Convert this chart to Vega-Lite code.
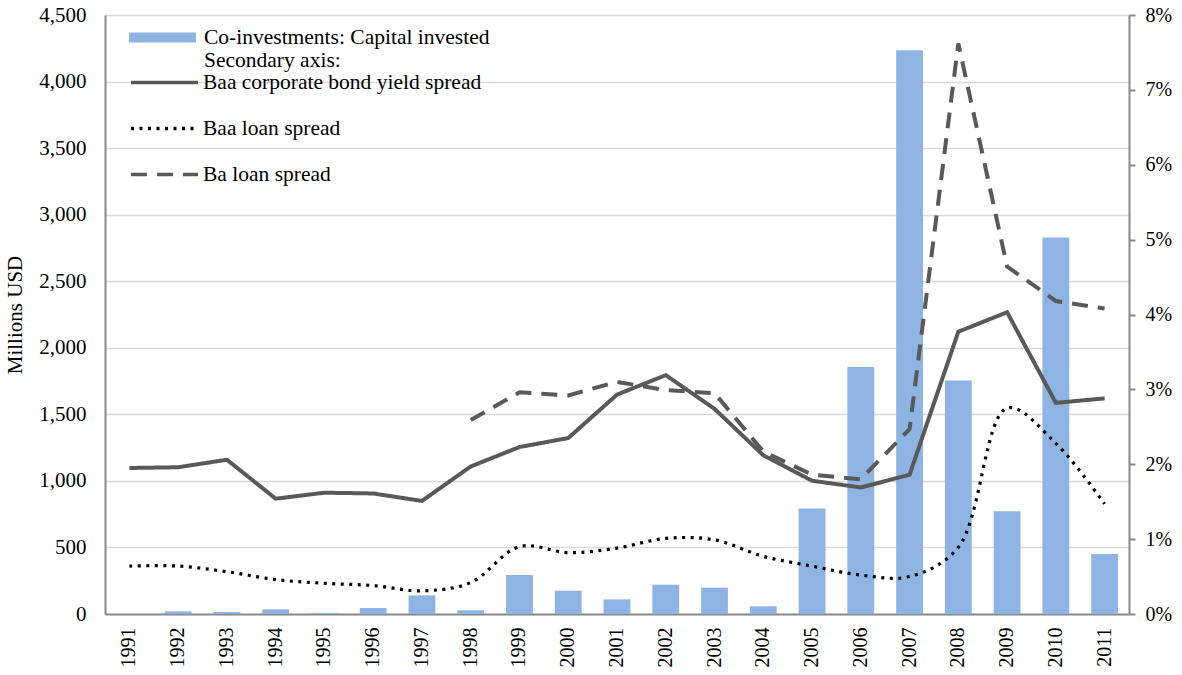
{
  "$schema": "https://vega.github.io/schema/vega-lite/v6.json",
  "autosize": {"type": "none"},
  "width": 1024,
  "height": 599,
  "padding": {"left": 105, "top": 15, "right": 53, "bottom": 61},
  "background": "white",
  "config": {
    "font": "Liberation Serif",
    "view": {"stroke": null},
    "axis": {
      "labelFont": "Liberation Serif",
      "titleFont": "Liberation Serif",
      "labelFontSize": 20,
      "titleFontSize": 21,
      "labelColor": "#000000",
      "titleColor": "#000000",
      "titleFontWeight": "normal",
      "domainColor": "#898989",
      "domainWidth": 2,
      "tickColor": "#898989",
      "tickWidth": 2,
      "gridColor": "#d9d9d9",
      "gridWidth": 1.5
    },
    "legend": {
      "labelFont": "Liberation Serif",
      "labelFontSize": 21.5,
      "labelColor": "#000000",
      "titleFont": "Liberation Serif"
    }
  },
  "datasets": {
    "capital": [
      {"year": "1991", "capital": 0},
      {"year": "1992", "capital": 20},
      {"year": "1993", "capital": 15},
      {"year": "1994", "capital": 35},
      {"year": "1995", "capital": 8},
      {"year": "1996", "capital": 45},
      {"year": "1997", "capital": 140},
      {"year": "1998", "capital": 28},
      {"year": "1999", "capital": 293},
      {"year": "2000", "capital": 175},
      {"year": "2001", "capital": 110},
      {"year": "2002", "capital": 220},
      {"year": "2003", "capital": 198},
      {"year": "2004", "capital": 58},
      {"year": "2005", "capital": 793},
      {"year": "2006", "capital": 1856},
      {"year": "2007", "capital": 4235},
      {"year": "2008", "capital": 1755},
      {"year": "2009", "capital": 772},
      {"year": "2010", "capital": 2828},
      {"year": "2011", "capital": 450}
    ],
    "spreads": [
      {"year": "1991", "series": "Baa corporate bond yield spread", "value": 1.95},
      {"year": "1992", "series": "Baa corporate bond yield spread", "value": 1.96},
      {"year": "1993", "series": "Baa corporate bond yield spread", "value": 2.06},
      {"year": "1994", "series": "Baa corporate bond yield spread", "value": 1.54},
      {"year": "1995", "series": "Baa corporate bond yield spread", "value": 1.62},
      {"year": "1996", "series": "Baa corporate bond yield spread", "value": 1.61},
      {"year": "1997", "series": "Baa corporate bond yield spread", "value": 1.51},
      {"year": "1998", "series": "Baa corporate bond yield spread", "value": 1.97},
      {"year": "1999", "series": "Baa corporate bond yield spread", "value": 2.23},
      {"year": "2000", "series": "Baa corporate bond yield spread", "value": 2.35},
      {"year": "2001", "series": "Baa corporate bond yield spread", "value": 2.93},
      {"year": "2002", "series": "Baa corporate bond yield spread", "value": 3.19},
      {"year": "2003", "series": "Baa corporate bond yield spread", "value": 2.74},
      {"year": "2004", "series": "Baa corporate bond yield spread", "value": 2.12},
      {"year": "2005", "series": "Baa corporate bond yield spread", "value": 1.78},
      {"year": "2006", "series": "Baa corporate bond yield spread", "value": 1.69},
      {"year": "2007", "series": "Baa corporate bond yield spread", "value": 1.86},
      {"year": "2008", "series": "Baa corporate bond yield spread", "value": 3.77},
      {"year": "2009", "series": "Baa corporate bond yield spread", "value": 4.03},
      {"year": "2010", "series": "Baa corporate bond yield spread", "value": 2.82},
      {"year": "2011", "series": "Baa corporate bond yield spread", "value": 2.88},
      {"year": "1991", "series": "Baa loan spread", "value": 0.64},
      {"year": "1992", "series": "Baa loan spread", "value": 0.64},
      {"year": "1993", "series": "Baa loan spread", "value": 0.565},
      {"year": "1994", "series": "Baa loan spread", "value": 0.46},
      {"year": "1995", "series": "Baa loan spread", "value": 0.41},
      {"year": "1996", "series": "Baa loan spread", "value": 0.38},
      {"year": "1997", "series": "Baa loan spread", "value": 0.31},
      {"year": "1998", "series": "Baa loan spread", "value": 0.42},
      {"year": "1999", "series": "Baa loan spread", "value": 0.9},
      {"year": "2000", "series": "Baa loan spread", "value": 0.82},
      {"year": "2001", "series": "Baa loan spread", "value": 0.88},
      {"year": "2002", "series": "Baa loan spread", "value": 1.01},
      {"year": "2003", "series": "Baa loan spread", "value": 0.99},
      {"year": "2004", "series": "Baa loan spread", "value": 0.77},
      {"year": "2005", "series": "Baa loan spread", "value": 0.64},
      {"year": "2006", "series": "Baa loan spread", "value": 0.52},
      {"year": "2007", "series": "Baa loan spread", "value": 0.5},
      {"year": "2008", "series": "Baa loan spread", "value": 0.89},
      {"year": "2009", "series": "Baa loan spread", "value": 2.75},
      {"year": "2010", "series": "Baa loan spread", "value": 2.28},
      {"year": "2011", "series": "Baa loan spread", "value": 1.47},
      {"year": "1998", "series": "Ba loan spread", "value": 2.59},
      {"year": "1999", "series": "Ba loan spread", "value": 2.96},
      {"year": "2000", "series": "Ba loan spread", "value": 2.92},
      {"year": "2001", "series": "Ba loan spread", "value": 3.1},
      {"year": "2002", "series": "Ba loan spread", "value": 2.99},
      {"year": "2003", "series": "Ba loan spread", "value": 2.95},
      {"year": "2004", "series": "Ba loan spread", "value": 2.17},
      {"year": "2005", "series": "Ba loan spread", "value": 1.86},
      {"year": "2006", "series": "Ba loan spread", "value": 1.8},
      {"year": "2007", "series": "Ba loan spread", "value": 2.47},
      {"year": "2008", "series": "Ba loan spread", "value": 7.62},
      {"year": "2009", "series": "Ba loan spread", "value": 4.64},
      {"year": "2010", "series": "Ba loan spread", "value": 4.18},
      {"year": "2011", "series": "Ba loan spread", "value": 4.08}
    ]
  },
  "encoding": {
    "x": {
      "field": "year",
      "type": "ordinal",
      "scale": {"paddingInner": 0.45, "paddingOuter": 0.225},
      "axis": {
        "title": null,
        "labelAngle": -90,
        "ticks": false,
        "tickSize": 0,
        "labelPadding": 13,
        "grid": false
      }
    }
  },
  "layer": [
    {
      "data": {"name": "capital"},
      "mark": {"type": "bar"},
      "encoding": {
        "y": {
          "field": "capital",
          "type": "quantitative",
          "scale": {"domain": [0, 4500], "nice": false},
          "axis": {
            "title": "Millions USD",
            "orient": "left",
            "values": [0, 500, 1000, 1500, 2000, 2500, 3000, 3500, 4000, 4500],
            "format": ",d",
            "labelFontSize": 21,
            "ticks": false,
            "tickSize": 0,
            "labelPadding": 19,
            "titlePadding": 13,
            "grid": true
          }
        },
        "fill": {
          "datum": "Co-investments: Capital invested",
          "scale": {"range": ["#8EB4E3"]},
          "legend": {
            "title": null,
            "orient": "none",
            "legendX": 24,
            "legendY": -11,
            "padding": 0,
            "symbolType": "M-1,-0.15H1V0.15H-1Z",
            "symbolSize": 4489,
            "symbolStrokeWidth": 0,
            "labelOffset": 8,
            "labelLimit": 600,
            "labelLineHeight": 23,
            "labelBaseline": "middle",
            "labelExpr": "[datum.label, 'Secondary axis:']"
          }
        }
      }
    },
    {
      "data": {"name": "spreads"},
      "encoding": {
        "y": {
          "field": "value",
          "type": "quantitative",
          "scale": {"domain": [0, 8], "nice": false},
          "axis": {
            "title": null,
            "orient": "right",
            "values": [0, 1, 2, 3, 4, 5, 6, 7, 8],
            "labelExpr": "datum.value + '%'",
            "tickSize": 6,
            "labelPadding": 10,
            "grid": false
          }
        },
        "stroke": {
          "field": "series",
          "type": "nominal",
          "scale": {
            "domain": ["Baa corporate bond yield spread", "Baa loan spread", "Ba loan spread"],
            "range": ["#595959", "#000000", "#595959"]
          },
          "legend": {
            "title": null,
            "orient": "none",
            "legendX": 24,
            "legendY": 56,
            "padding": 0,
            "symbolType": "stroke",
            "symbolSize": 4489,
            "symbolStrokeWidth": 3.5,
            "clipHeight": 23,
            "rowPadding": 23,
            "labelOffset": 3,
            "labelLimit": 600
          }
        },
        "strokeDash": {
          "field": "series",
          "type": "nominal",
          "scale": {
            "domain": ["Baa corporate bond yield spread", "Baa loan spread", "Ba loan spread"],
            "range": [[1, 0], [3, 5.5], [16, 10]]
          },
          "legend": {
            "title": null,
            "orient": "none",
            "legendX": 24,
            "legendY": 56,
            "padding": 0,
            "symbolType": "stroke",
            "symbolSize": 4489,
            "symbolStrokeWidth": 3.5,
            "clipHeight": 23,
            "rowPadding": 23,
            "labelOffset": 3,
            "labelLimit": 600
          }
        }
      },
      "layer": [
        {
          "transform": [{"filter": "datum.series != 'Baa loan spread'"}],
          "mark": {"type": "line", "strokeWidth": 4, "interpolate": "linear"}
        },
        {
          "transform": [{"filter": "datum.series == 'Baa loan spread'"}],
          "mark": {"type": "line", "strokeWidth": 3.2, "interpolate": "catmull-rom"}
        }
      ]
    }
  ],
  "resolve": {"scale": {"y": "independent"}}
}
